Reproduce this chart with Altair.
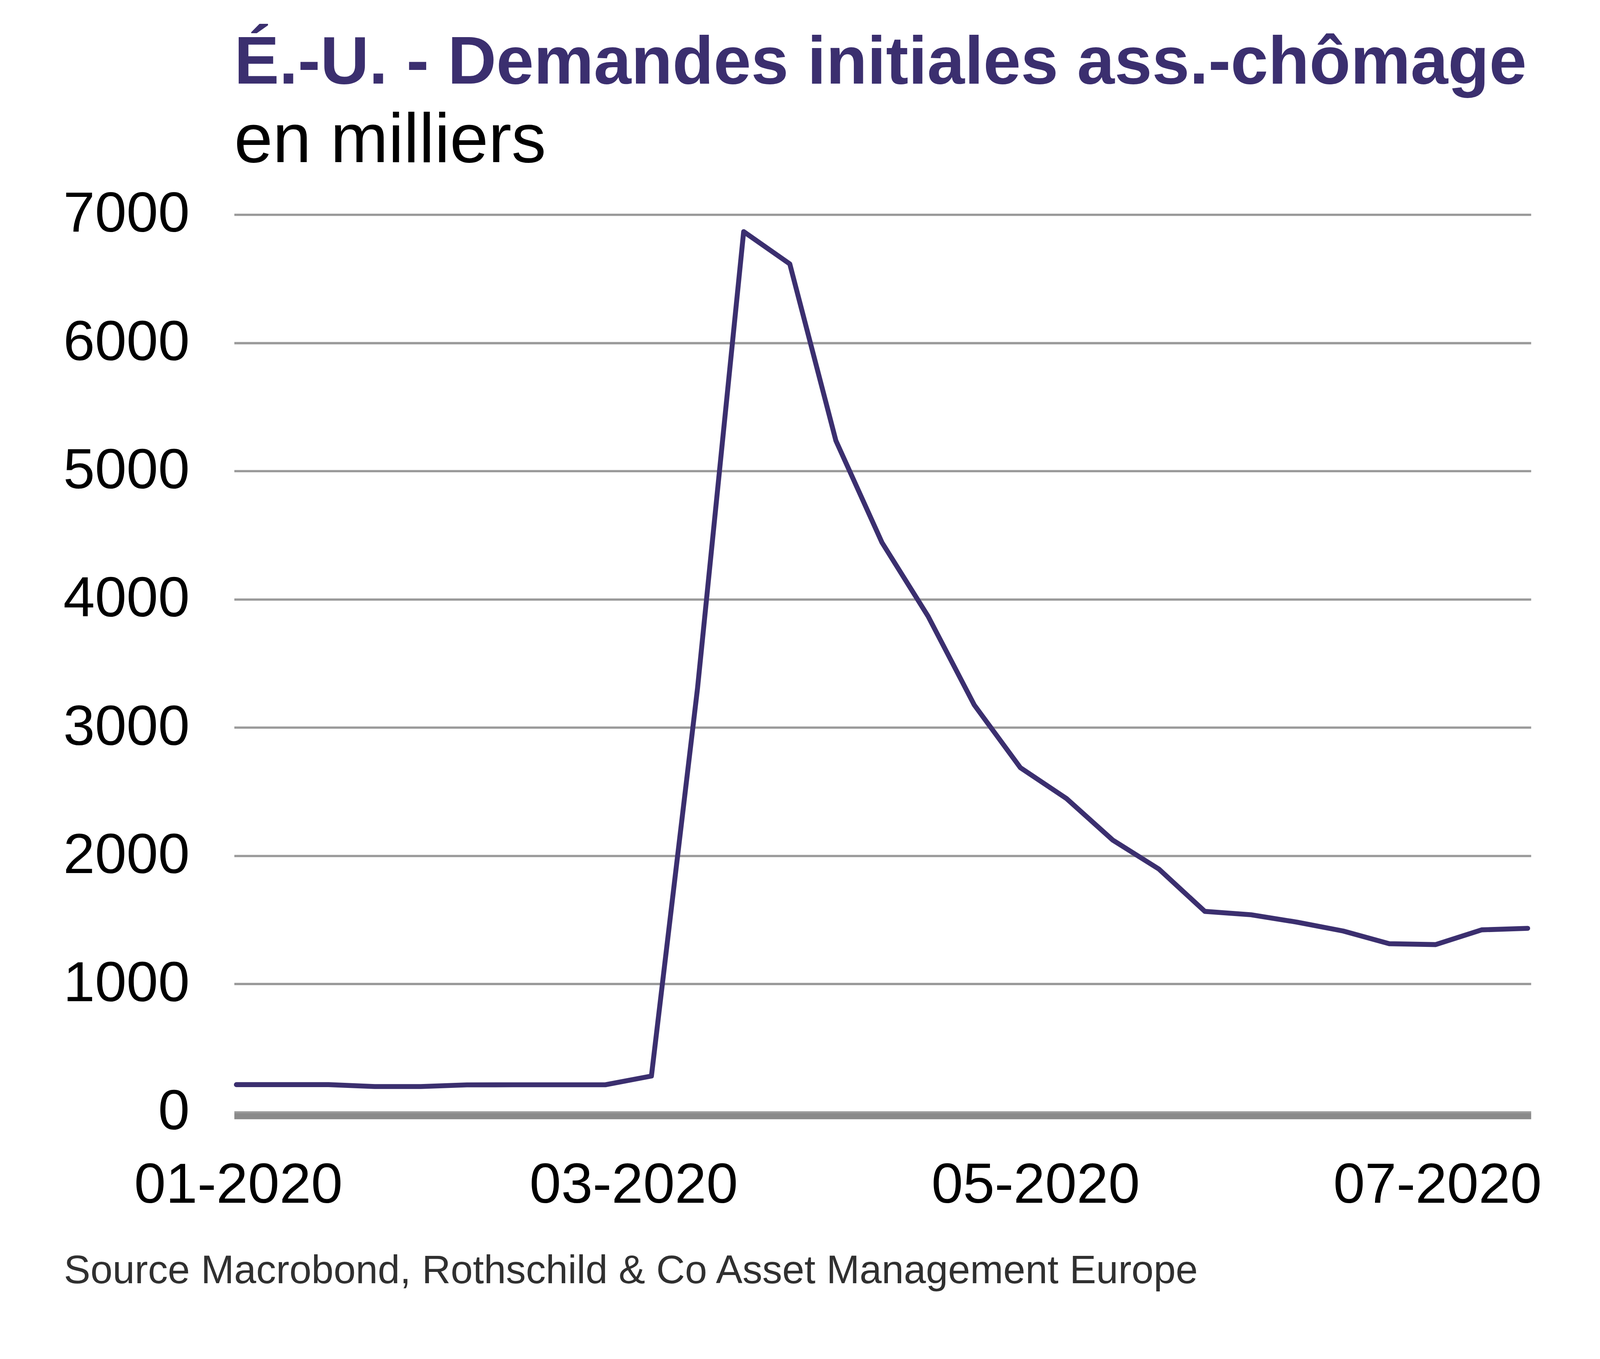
import altair as alt
import pandas as pd

# --- data ---
dates = [
    "2020-01-01", "2020-01-08", "2020-01-15", "2020-01-22", "2020-01-29",
    "2020-02-05", "2020-02-12", "2020-02-19", "2020-02-26", "2020-03-04",
    "2020-03-11", "2020-03-18", "2020-03-25", "2020-04-01", "2020-04-08",
    "2020-04-15", "2020-04-22", "2020-04-29", "2020-05-06", "2020-05-13",
    "2020-05-20", "2020-05-27", "2020-06-03", "2020-06-10", "2020-06-17",
    "2020-06-24", "2020-07-01", "2020-07-08", "2020-07-15",
]
claims = [
    215, 215, 215, 200, 200,
    213, 214, 214, 214, 282,
    3307, 6867, 6615, 5237, 4442,
    3867, 3176, 2687, 2446, 2123,
    1897, 1566, 1540, 1482, 1413,
    1314, 1307, 1422, 1434,
]
y_ticks = [0, 1000, 2000, 3000, 4000, 5000, 6000, 7000]
x_tick_dates = ["2020-01-01", "2020-03-01", "2020-05-01", "2020-07-01"]

title_text = "É.-U. - Demandes initiales ass.-chômage"
subtitle_text = "en milliers"
source_text = "Source Macrobond, Rothschild & Co Asset Management Europe"

df = pd.DataFrame({"date": dates, "value": claims})

FONT = "Liberation Sans"
PURPLE = "#3b2f6f"

x_vals = [alt.DateTime(year=int(d[:4]), month=int(d[5:7]), date=int(d[8:10]), utc=True)
          for d in x_tick_dates]

chart = alt.Chart(df).mark_line(
    color=PURPLE, strokeWidth=13, strokeCap="round", strokeJoin="round"
).encode(
    x=alt.X(
        "date:T",
        scale=alt.Scale(
            type="utc",
            domain=[alt.DateTime(year=2019, month=12, date=31, hours=16, utc=True),
                    alt.DateTime(year=2020, month=7, date=15, hours=12, utc=True)],
        ),
        axis=alt.Axis(
            values=x_vals,
            labelExpr="utcFormat(datum.value, '%m-%Y')",
            grid=False,
            ticks=False,
            tickSize=0,
            domain=True,
            domainColor="#8a8a8a",
            domainWidth=16,
            offset=10,
            labelFont=FONT,
            labelFontSize=150,
            labelColor="black",
            labelPadding=110,
            labelOffset=5,
            labelFlush=False,
            labelOverlap=False,
            labelLimit=2000,
            title=source_text,
            titleFont=FONT,
            titleFontSize=105,
            titleFontWeight="normal",
            titleColor="#303030",
            titleAlign="left",
            titleAnchor="start",
            titleBaseline="alphabetic",
            titleX=-450,
            titleY=441,
            titleLimit=5000,
        ),
    ),
    y=alt.Y(
        "value:Q",
        scale=alt.Scale(domain=[0, 7000], nice=False, zero=True),
        axis=alt.Axis(
            values=y_ticks,
            format="d",
            grid=True,
            gridColor="#9a9a9a",
            gridWidth=6,
            domain=False,
            ticks=False,
            tickSize=0,
            labelFont=FONT,
            labelFontSize=150,
            labelColor="black",
            labelPadding=118,
            labelOverlap=False,
            labelLimit=2000,
            title=None,
        ),
    ),
).properties(
    width=3424,
    height=2370,
    background="white",
    autosize=alt.AutoSizeParams(type="none"),
    padding={"left": 610, "top": 504, "right": 174, "bottom": 587},
    title=alt.TitleParams(
        text=title_text,
        subtitle=subtitle_text,
        anchor="start",
        frame="group",
        orient="top",
        font=FONT,
        fontSize=178,
        fontWeight="bold",
        color=PURPLE,
        subtitleFont=FONT,
        subtitleFontSize=183,
        subtitleColor="black",
        subtitlePadding=25,
        offset=26,
        limit=5000,
    ),
).configure_view(strokeWidth=0, stroke="transparent")

chart.save("out.html", embed_options={"renderer": "svg", "actions": False})
